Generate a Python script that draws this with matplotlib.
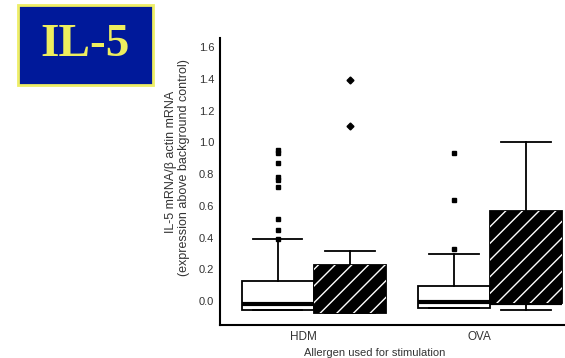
import numpy as np
import matplotlib.pyplot as plt
from matplotlib.patches import Rectangle, PathPatch

plt.rcParams['font.family'] = ['Liberation Sans', 'DejaVu Sans']
plt.rcParams['hatch.linewidth'] = 1.0

categories = ['HDM', 'OVA']
cat_pos = [1, 2]

# per box: white = first group, black = second group
q1 = [-0.057, -0.075, -0.045, -0.01]
med = [-0.02, -0.06, -0.005, -0.01]
q3 = [0.13, 0.227, 0.095, 0.567]
whislo = [-0.057, -0.075, -0.045, -0.057]
whishi = [0.39, 0.315, 0.30, 1.0]
fliers = [
    [0.95, 0.93, 0.87, 0.78, 0.76, 0.72, 0.52, 0.45, 0.39],
    [1.39, 1.10],
    [0.93, 0.64, 0.33],
    [],
]
box_colors = ['white', 'black', 'white', 'black']

fig = plt.figure(figsize=(5.65, 3.58), dpi=100)
ax = fig.add_axes([0.389, 0.092, 0.611, 0.802])

offset = 0.205
positions = []
for p in cat_pos:
    positions += [p - offset, p + offset]

stats = []
for i in range(4):
    stats.append(dict(q1=q1[i], med=med[i], q3=q3[i], whislo=whislo[i],
                      whishi=whishi[i], fliers=fliers[i]))

bp = ax.bxp(stats, positions=positions, widths=0.41, capwidths=0.28,
            patch_artist=True, showcaps=True,
            boxprops=dict(linewidth=1.3, edgecolor='black'),
            whiskerprops=dict(linewidth=1.3),
            capprops=dict(linewidth=1.3),
            medianprops=dict(color='black', linewidth=3),
            flierprops=dict(marker='s', markersize=3.5, markerfacecolor='black',
                            markeredgecolor='black'))
for i, b in enumerate(bp['boxes']):
    b.set_facecolor(box_colors[i])
    if box_colors[i] == 'black':
        # white hatch drawn on top of the black box
        ax.add_patch(PathPatch(b.get_path(), facecolor='none', edgecolor='white',
                               linewidth=0, hatch='//', zorder=b.get_zorder() + 0.1))
bp['fliers'][1].set_marker('D')

ax.set_xlim(0.466, 2.426)
ax.set_ylim(-0.15, 1.657)
ax.set_yticks(np.arange(0, 1.61, 0.2))
ax.set_yticklabels(['%.1f' % v for v in np.arange(0, 1.61, 0.2)], fontsize=8, color='#333333')
ax.set_xticks([p - 0.06 for p in cat_pos])
ax.set_xticklabels(categories, fontsize=8.5, color='#333333')
ax.tick_params(length=0)
ax.tick_params(axis='y', pad=4)
ax.tick_params(axis='x', pad=4)
for s in ['top', 'right']:
    ax.spines[s].set_visible(False)
for s in ['left', 'bottom']:
    ax.spines[s].set_linewidth(1.5)

fig.text(375 / 565, 1 - 353 / 358, 'Allergen used for stimulation', fontsize=8,
         ha='center', va='center', color='#333333')
fig.text(171 / 565, 1 - 162 / 358, 'IL-5 mRNA/β actin mRNA', fontsize=9,
         rotation=90, ha='center', va='center', color='#333333')
fig.text(184 / 565, 1 - 168 / 358, '(expression above background control)', fontsize=9,
         rotation=90, ha='center', va='center', color='#333333')

# title badge
fig.patches.append(Rectangle((18 / 565, 1 - 85 / 358), 135 / 565, 80 / 358,
                             transform=fig.transFigure, facecolor='#00199a',
                             edgecolor='#eeee66', linewidth=2))
fig.text(85 / 565, 1 - 45 / 358, 'IL-5', fontsize=34, fontweight='bold',
         family=['Liberation Serif', 'DejaVu Serif'], color='#eeee5e',
         ha='center', va='center')

fig.savefig('out.png', dpi=100)
